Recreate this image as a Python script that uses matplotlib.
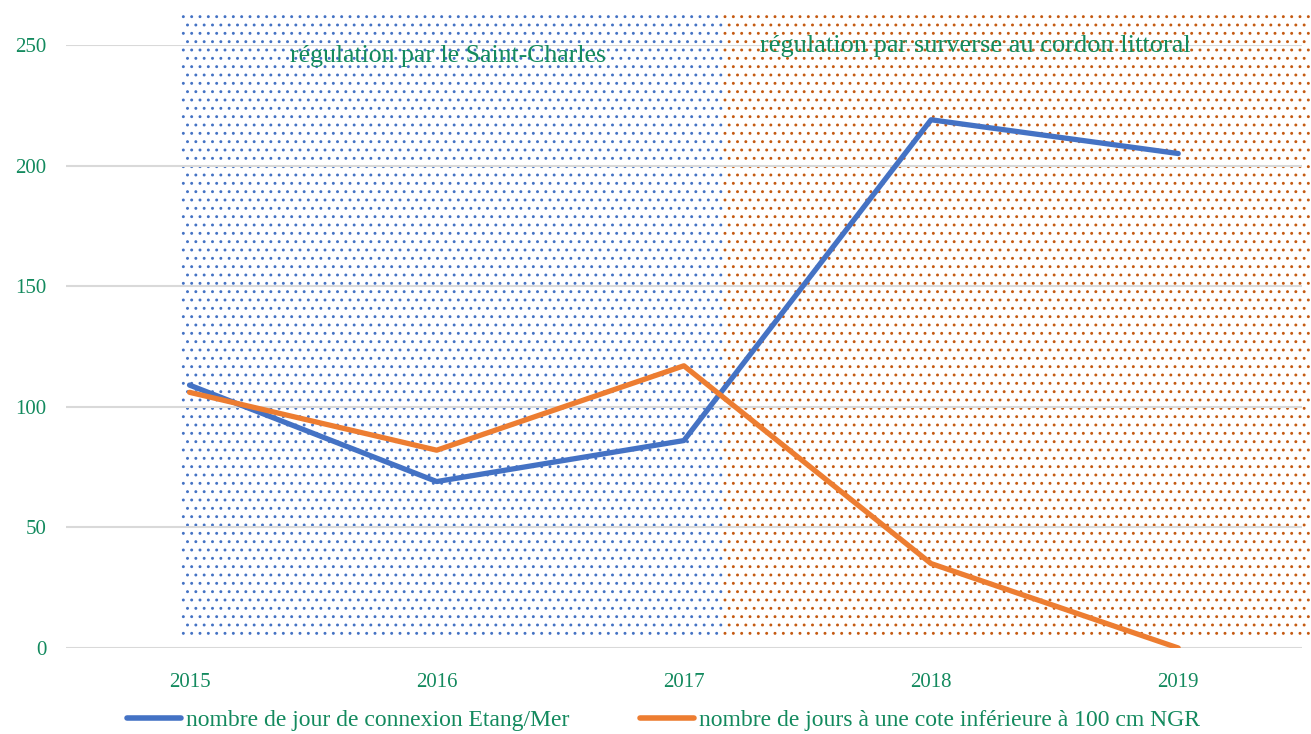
import matplotlib
matplotlib.use("Agg")
import matplotlib.pyplot as plt
from matplotlib.patches import Rectangle
from matplotlib.lines import Line2D

# data
annees = ["2015", "2016", "2017", "2018", "2019"]
connexion = [109, 69, 86, 219, 205]
cote_inf = [106, 82, 117, 35, 0]
yticks = [0, 50, 100, 150, 200, 250]

label_connexion = "nombre de jour de connexion Etang/Mer"
label_cote = "nombre de jours à une cote inférieure à 100 cm NGR"
txt_periode1 = "régulation par le Saint-Charles"
txt_periode2 = "régulation par surverse au cordon littoral"

BLEU = "#4472C4"
ORANGE = "#ED7D31"
VERT = "#138A5E"

plt.rcParams["font.family"] = ["Liberation Serif", "DejaVu Serif"]
plt.rcParams["hatch.linewidth"] = 0.9

fig = plt.figure(figsize=(13.11, 7.34), dpi=100)
ax = fig.add_axes([0.0503, 0.1172, 0.9427, 0.8215])

x = list(range(len(annees)))
ax.set_xlim(-0.5, len(annees) - 0.5)
ax.set_ylim(0, 250)

# dotted background zones
ax.add_patch(Rectangle((-0.036, 3.3), 2.194, 259.5, facecolor="none",
                       edgecolor=BLEU, hatch="..", linewidth=0,
                       clip_on=False, zorder=0))
ax.add_patch(Rectangle((2.158, 3.3), 2.4, 261.2, facecolor="none",
                       edgecolor="#C55A11", hatch="..", linewidth=0,
                       clip_on=False, zorder=0))

for v in yticks:
    ax.axhline(v, color="#D9D9D9", lw=1.5, zorder=1)

ax.plot(x, connexion, color=BLEU, lw=3.8, solid_capstyle="round", zorder=3)
ax.plot(x, cote_inf, color=ORANGE, lw=3.8, solid_capstyle="round", zorder=3)

ax.set_xticks(x)
ax.set_xticklabels(annees)
ax.set_yticks(yticks)
ax.tick_params(axis="both", length=0, labelsize=15, labelcolor=VERT)
ax.tick_params(axis="x", pad=18)
ax.tick_params(axis="y", pad=14)
for s in ax.spines.values():
    s.set_visible(False)

ax.text(1.045, 245.5, txt_periode1, ha="center", va="center",
        fontsize=18.5, color=VERT, zorder=4)
ax.text(3.18, 249.5, txt_periode2, ha="center", va="center",
        fontsize=19, color=VERT, zorder=4)

handles = [Line2D([], [], color=BLEU, lw=4, solid_capstyle="round"),
           Line2D([], [], color=ORANGE, lw=4, solid_capstyle="round")]
fig.legend(handles, [label_connexion, label_cote], loc="center",
           bbox_to_anchor=(0.506, 0.019), ncol=2, frameon=False,
           fontsize=17, labelcolor=VERT, handlelength=2.3,
           handletextpad=0.2, columnspacing=3.0)

fig.savefig("out.png", dpi=100)
